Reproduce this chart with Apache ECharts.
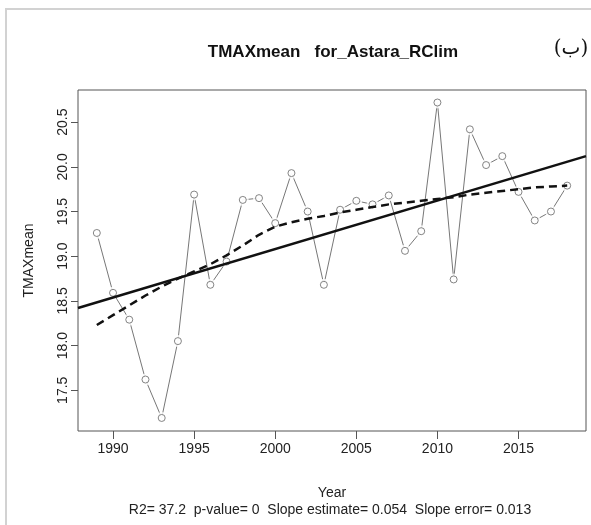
<!DOCTYPE html>
<html>
<head>
<meta charset="utf-8">
<script src="https://cdn.jsdelivr.net/npm/echarts@6/dist/echarts.min.js"></script>
<style>
html,body{margin:0;padding:0;background:#fff;}
#chart{width:591px;height:525px;}
</style>
</head>
<body>
<div id="chart"></div>
<script>
// ---- data ----
const years = [1989,1990,1991,1992,1993,1994,1995,1996,1997,1998,1999,2000,2001,2002,2003,2004,2005,2006,2007,2008,2009,2010,2011,2012,2013,2014,2015,2016,2017,2018];
const tmaxMean = [19.26,18.59,18.29,17.62,17.19,18.05,19.69,18.68,18.94,19.63,19.65,19.37,19.93,19.50,18.68,19.52,19.62,19.58,19.68,19.06,19.28,20.72,18.74,20.42,20.02,20.12,19.72,19.40,19.50,19.79];
const lowessFit = [18.23,18.34,18.45,18.56,18.66,18.75,18.83,18.91,19.01,19.12,19.24,19.33,19.38,19.42,19.45,19.49,19.52,19.55,19.58,19.60,19.62,19.64,19.66,19.69,19.71,19.73,19.75,19.77,19.78,19.79];
const trendX = [1987.84, 2019.16];
const trendY = [18.42, 20.12];
const xTicks = [1990,1995,2000,2005,2010,2015];
const yTicks = [17.5,18.0,18.5,19.0,19.5,20.0,20.5];
const titleText = 'TMAXmean   for_Astara_RClim';
const subText = 'R2= 37.2  p-value= 0  Slope estimate= 0.054  Slope error= 0.013';
const panelTag = '(ب)';
const xName = 'Year';
const yName = 'TMAXmean';

const pts = years.map((y,i)=>[y,tmaxMean[i]]);
const lowPts = years.map((y,i)=>[y,lowessFit[i]]);
const trendPts = trendX.map((x,i)=>[x,trendY[i]]);

const FONT = "'Liberation Sans', Arial, sans-serif";
const chart = echarts.init(document.getElementById('chart'), null, {renderer:'canvas'});
chart.setOption({
  backgroundColor:'#fff',
  animation:false,
  grid:{left:78, top:90, right:5, bottom:94, show:true, borderColor:'#555', borderWidth:1, backgroundColor:'transparent'},
  xAxis:{
    type:'value', min:1987.84, max:2019.16,
    name:xName, nameLocation:'middle', nameGap:55,
    nameTextStyle:{fontFamily:FONT, fontSize:14, color:'#222'},
    axisLine:{show:false},
    splitLine:{show:false},
    axisTick:{show:true, length:8, lineStyle:{color:'#555'}, customValues:xTicks},
    axisLabel:{fontFamily:FONT, fontSize:14, color:'#222', margin:11, customValues:xTicks, formatter:v=>String(v)}
  },
  yAxis:{
    type:'value', min:17.044, max:20.86,
    name:yName, nameLocation:'middle', nameGap:42, nameRotate:90,
    nameTextStyle:{fontFamily:FONT, fontSize:14, color:'#222'},
    axisLine:{show:false},
    splitLine:{show:false},
    axisTick:{show:true, length:7, lineStyle:{color:'#555'}, customValues:yTicks},
    axisLabel:{fontFamily:FONT, fontSize:14, color:'#222', margin:8, rotate:90, customValues:yTicks, formatter:v=>v.toFixed(1)}
  },
  series:[
    {type:'line', data:pts, showSymbol:false, symbol:'none', z:2, silent:true,
     lineStyle:{color:'#777', width:1}},
    {type:'scatter', data:pts, symbol:'circle', symbolSize:12, z:3, silent:true,
     itemStyle:{color:'#fff', borderWidth:0}},
    {type:'scatter', data:pts, symbol:'circle', symbolSize:7, z:4, silent:true,
     itemStyle:{color:'#fff', borderColor:'#666', borderWidth:1}},
    {type:'line', data:trendPts, showSymbol:false, symbol:'none', z:5, silent:true,
     lineStyle:{color:'#111', width:2.5}},
    {type:'line', data:lowPts, showSymbol:false, symbol:'none', z:6, silent:true,
     lineStyle:{color:'#111', width:2.5, type:[8,5]}}
  ],
  graphic:[
    {type:'line', shape:{x1:5, y1:9, x2:591, y2:9}, style:{stroke:'#d2d2d2', lineWidth:2}, silent:true},
    {type:'line', shape:{x1:6, y1:9, x2:6, y2:525}, style:{stroke:'#d2d2d2', lineWidth:2}, silent:true},
    {type:'text', x:333, y:52, style:{text:titleText, fontFamily:FONT, fontWeight:'bold', fontSize:17, fill:'#111', align:'center', verticalAlign:'middle'}},
    {type:'text', x:571, y:49, style:{text:panelTag, fontFamily:"'DejaVu Serif', 'DejaVu Sans', serif", fontSize:20, fill:'#111', align:'center', verticalAlign:'middle'}},
    {type:'text', x:330, y:510, style:{text:subText, fontFamily:FONT, fontSize:14, fill:'#222', align:'center', verticalAlign:'middle'}}
  ]
});
</script>
</body>
</html>
